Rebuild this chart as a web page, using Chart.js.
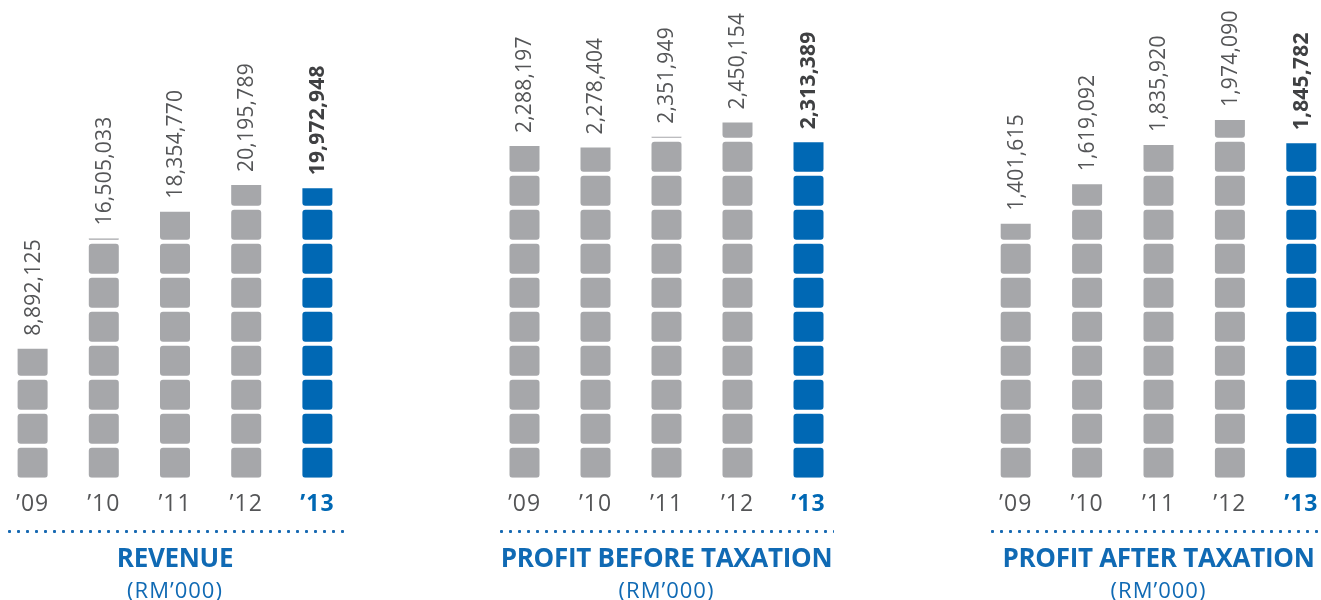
<!DOCTYPE html>
<html><head><meta charset="utf-8">
<script src="https://cdn.jsdelivr.net/npm/chart.js@4.4.1/dist/chart.umd.min.js"></script>
<style>
html,body{margin:0;padding:0;width:1321px;height:600px;overflow:hidden;background:#fff;}
canvas{position:absolute;top:0;}
.dots{position:absolute;top:529.5px;height:3px;background-image:radial-gradient(circle at 1.5px 1.5px,#1769b2 1.3px,rgba(23,105,178,0) 1.8px);background-size:9px 3px;background-repeat:repeat-x;}
.title{position:absolute;width:420px;text-align:center;font-family:"Open Sans",sans-serif;color:#106ab4;white-space:nowrap;}
.t1{top:544.2px;font-weight:700;font-size:26px;line-height:26px;letter-spacing:-0.3px;}
.t2{top:577.5px;font-weight:400;font-size:22px;line-height:22px;letter-spacing:1px;}
</style></head>
<body>
<canvas id="c0" width="356" height="600" style="left:-3px"></canvas>
<canvas id="c1" width="355" height="600" style="left:489px"></canvas>
<canvas id="c2" width="357" height="600" style="left:980px"></canvas>
<div class="dots" style="left:8px;width:337px"></div>
<div class="dots" style="left:500px;width:334px"></div>
<div class="dots" style="left:991px;width:330px"></div>
<div class="title t1" id="h0" style="left:-35px"></div>
<div class="title t2" id="s0" style="left:-35px"></div>
<div class="title t1" id="h1" style="left:456.5px"></div>
<div class="title t2" id="s1" style="left:456.5px"></div>
<div class="title t1" id="h2" style="left:948.5px"></div>
<div class="title t2" id="s2" style="left:948.5px"></div>
<script>
// ---- data (RM'000) ----
const years = ["\u201909", "\u201910", "\u201911", "\u201912", "\u201913"];
const revenue = [8892125, 16505033, 18354770, 20195789, 19972948];
const profitBeforeTax = [2288197, 2278404, 2351949, 2450154, 2313389];
const profitAfterTax = [1401615, 1619092, 1835920, 1974090, 1845782];
const panelTitles = ["REVENUE", "PROFIT BEFORE TAXATION", "PROFIT AFTER TAXATION"];
const unitLabel = "(RM\u2019000)";
const highlightIndex = 4;

// ---- style ----
const GREY = '#a6a7aa', BLUE = '#0068b4', TEXT = '#545557', TEXT_BOLD = '#3f4042';
const CANVAS_H = 600, PLOT_BOTTOM = 477.7;
const SEG_PX = 34, SEG_BODY_PX = 30;
const scaleMaxes = [32967563, 3295392, 2636313];

const labelsPlugin = {
  id: 'panelLabels',
  afterDatasetsDraw(chart, args, opts) {
    const {ctx} = chart;
    const x = chart.scales.x, y = chart.scales.y;
    opts.values.forEach((v, i) => {
      const cx = x.getPixelForValue(i);
      const top = y.getPixelForValue(v);
      const hl = i === opts.highlight;
      ctx.save();
      ctx.translate(cx + 1, top - 13);
      ctx.rotate(-Math.PI / 2);
      ctx.font = (hl ? '700 ' : '400 ') + '21px "Open Sans"';
      ctx.letterSpacing = '0.2px';
      ctx.fillStyle = hl ? TEXT_BOLD : TEXT;
      ctx.textAlign = 'left';
      ctx.textBaseline = 'middle';
      ctx.fillText(v.toLocaleString('en-US'), 0, 0);
      ctx.restore();
      ctx.save();
      ctx.font = (hl ? '700 ' : '400 ') + '23px "Open Sans"';
      ctx.letterSpacing = '1px';
      ctx.fillStyle = hl ? BLUE : TEXT;
      ctx.textAlign = 'center';
      ctx.textBaseline = 'alphabetic';
      ctx.fillText(opts.labels[i], cx, 511);
      ctx.restore();
    });
  }
};

function buildPanel(id, values, scaleMax) {
  const plotH = PLOT_BOTTOM;
  const step = scaleMax * SEG_PX / plotH;
  const body = step * SEG_BODY_PX / SEG_PX;
  const n = Math.ceil(Math.max(...values) / step);
  const datasets = [];
  for (let k = 0; k < n; k++) {
    const lo = k * step;
    datasets.push({
      data: values.map(v => v > lo ? [lo, Math.min(v, lo + body)] : null),
      backgroundColor: c => c.dataIndex === highlightIndex ? BLUE : GREY,
      borderWidth: 0,
      borderSkipped: false,
      inflateAmount: 0,
      barThickness: 30,
      borderRadius: c => {
        const r = c.raw;
        const flat = r && (r[1] < r[0] + body - 1e-6);
        return {topLeft: flat ? 0 : 3, topRight: flat ? 0 : 3, bottomLeft: 3, bottomRight: 3};
      }
    });
  }
  return new Chart(document.getElementById(id), {
    type: 'bar',
    data: {labels: years, datasets},
    options: {
      responsive: false, animation: false, devicePixelRatio: 1,
      layout: {padding: {top: 0, left: 0, right: 0, bottom: CANVAS_H - PLOT_BOTTOM}},
      datasets: {bar: {grouped: false}},
      plugins: {
        legend: {display: false}, tooltip: {enabled: false},
        panelLabels: {values, labels: years, highlight: highlightIndex}
      },
      scales: {
        x: {display: false, offset: true},
        y: {display: false, min: 0, max: scaleMax}
      }
    },
    plugins: [labelsPlugin]
  });
}

buildPanel('c0', revenue, scaleMaxes[0]);
buildPanel('c1', profitBeforeTax, scaleMaxes[1]);
buildPanel('c2', profitAfterTax, scaleMaxes[2]);
panelTitles.forEach((t, i) => {
  document.getElementById('h' + i).textContent = t;
  document.getElementById('s' + i).textContent = unitLabel;
});
</script>
</body></html>
